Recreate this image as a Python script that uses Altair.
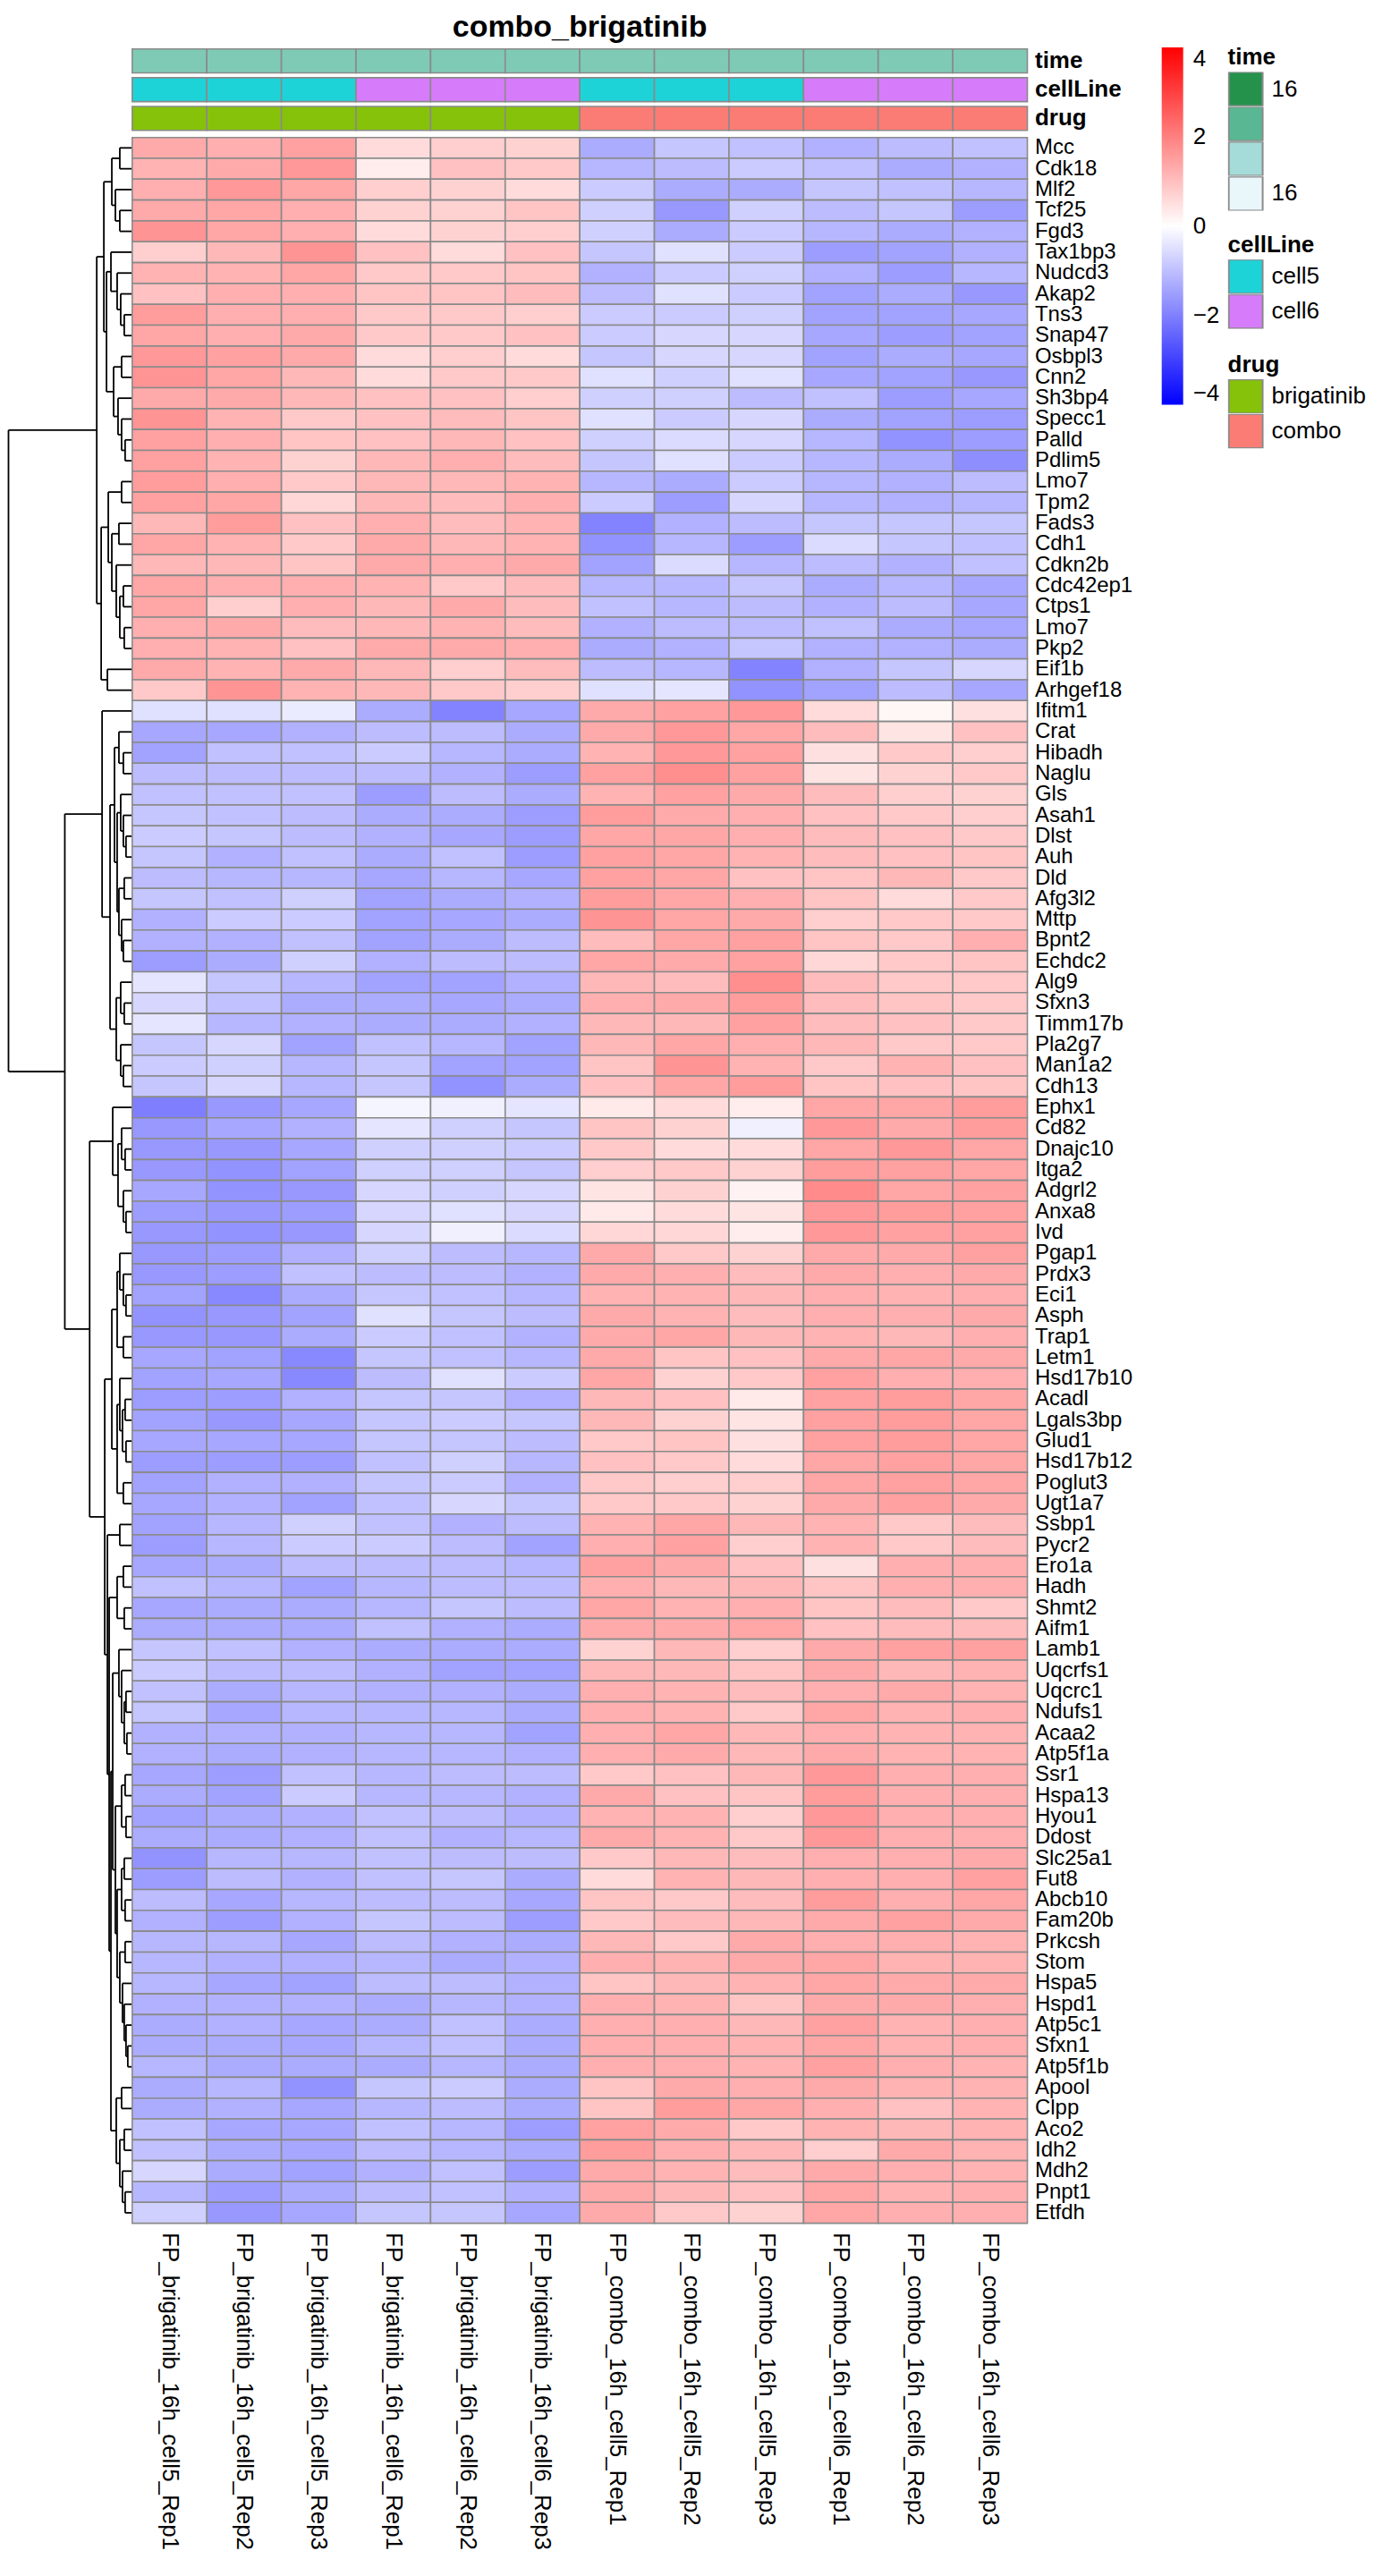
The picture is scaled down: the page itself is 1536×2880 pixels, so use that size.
import json
import altair as alt
import pandas as pd

TITLE = "combo_brigatinib"

samples = [
    "FP_brigatinib_16h_cell5_Rep1", "FP_brigatinib_16h_cell5_Rep2", "FP_brigatinib_16h_cell5_Rep3",
    "FP_brigatinib_16h_cell6_Rep1", "FP_brigatinib_16h_cell6_Rep2", "FP_brigatinib_16h_cell6_Rep3",
    "FP_combo_16h_cell5_Rep1", "FP_combo_16h_cell5_Rep2", "FP_combo_16h_cell5_Rep3",
    "FP_combo_16h_cell6_Rep1", "FP_combo_16h_cell6_Rep2", "FP_combo_16h_cell6_Rep3",
]
time_h = ["16", "16", "16", "16", "16", "16", "16", "16", "16", "16", "16", "16"]
cell_line = ["cell5", "cell5", "cell5", "cell6", "cell6", "cell6",
             "cell5", "cell5", "cell5", "cell6", "cell6", "cell6"]
drug = ["brigatinib", "brigatinib", "brigatinib", "brigatinib", "brigatinib", "brigatinib",
        "combo", "combo", "combo", "combo", "combo", "combo"]
tracks = ["time", "cellLine", "drug"]

genes = [
    "Mcc", "Cdk18", "Mlf2", "Tcf25", "Fgd3", "Tax1bp3", "Nudcd3", "Akap2", "Tns3", "Snap47",
    "Osbpl3", "Cnn2", "Sh3bp4", "Specc1", "Palld", "Pdlim5", "Lmo7", "Tpm2", "Fads3", "Cdh1",
    "Cdkn2b", "Cdc42ep1", "Ctps1", "Lmo7", "Pkp2", "Eif1b", "Arhgef18", "Ifitm1", "Crat", "Hibadh",
    "Naglu", "Gls", "Asah1", "Dlst", "Auh", "Dld", "Afg3l2", "Mttp", "Bpnt2", "Echdc2",
    "Alg9", "Sfxn3", "Timm17b", "Pla2g7", "Man1a2", "Cdh13", "Ephx1", "Cd82", "Dnajc10", "Itga2",
    "Adgrl2", "Anxa8", "Ivd", "Pgap1", "Prdx3", "Eci1", "Asph", "Trap1", "Letm1", "Hsd17b10",
    "Acadl", "Lgals3bp", "Glud1", "Hsd17b12", "Poglut3", "Ugt1a7", "Ssbp1", "Pycr2", "Ero1a", "Hadh",
    "Shmt2", "Aifm1", "Lamb1", "Uqcrfs1", "Uqcrc1", "Ndufs1", "Acaa2", "Atp5f1a", "Ssr1", "Hspa13",
    "Hyou1", "Ddost", "Slc25a1", "Fut8", "Abcb10", "Fam20b", "Prkcsh", "Stom", "Hspa5", "Hspd1",
    "Atp5c1", "Sfxn1", "Atp5f1b", "Apool", "Clpp", "Aco2", "Idh2", "Mdh2", "Pnpt1", "Etfdh",
]

# row z-scores, brigatinib samples (cell5 x3, cell6 x3)
brig_z = [
    [1.33, 1.26, 1.47, 0.56, 0.77, 0.70],      # Mcc
    [1.19, 1.33, 1.61, 0.28, 0.98, 0.84],      # Cdk18
    [1.26, 1.61, 1.40, 0.77, 0.70, 0.56],      # Mlf2
    [1.33, 1.40, 1.26, 0.70, 0.70, 0.91],      # Tcf25
    [1.68, 1.40, 1.26, 0.56, 0.70, 0.77],      # Fgd3
    [0.77, 1.12, 1.68, 0.98, 0.56, 0.98],      # Tax1bp3
    [1.19, 1.19, 1.40, 0.84, 0.84, 0.91],      # Nudcd3
    [0.98, 1.26, 1.26, 0.91, 0.91, 1.05],      # Akap2
    [1.54, 1.26, 1.26, 0.84, 0.84, 0.77],      # Tns3
    [1.40, 1.26, 1.33, 0.84, 0.84, 0.98],      # Snap47
    [1.61, 1.47, 1.33, 0.56, 0.77, 0.56],      # Osbpl3
    [1.68, 1.40, 1.12, 0.56, 0.84, 0.84],      # Cnn2
    [1.33, 1.33, 1.12, 0.98, 0.98, 0.77],      # Sh3bp4
    [1.68, 1.19, 0.84, 0.98, 1.05, 0.91],      # Specc1
    [1.47, 1.26, 0.91, 0.98, 1.12, 0.98],      # Palld
    [1.47, 1.19, 0.70, 1.12, 1.26, 1.05],      # Pdlim5
    [1.54, 1.26, 0.84, 1.12, 1.12, 1.19],      # Lmo7
    [1.47, 1.40, 0.63, 1.12, 1.05, 1.26],      # Tpm2
    [1.12, 1.54, 0.98, 1.26, 1.05, 1.19],      # Fads3
    [1.40, 1.19, 0.84, 1.33, 1.12, 1.19],      # Cdh1
    [1.12, 1.12, 0.91, 1.33, 1.26, 1.33],      # Cdkn2b
    [1.40, 1.26, 1.26, 1.19, 0.84, 1.05],      # Cdc42ep1
    [1.40, 0.77, 1.26, 1.12, 1.33, 1.05],      # Ctps1
    [1.26, 1.33, 1.05, 1.12, 1.19, 1.05],      # Lmo7
    [1.26, 1.19, 0.98, 1.33, 1.33, 1.26],      # Pkp2
    [1.33, 1.19, 1.33, 1.12, 0.77, 1.05],      # Eif1b
    [0.84, 1.68, 1.19, 1.12, 0.84, 0.77],      # Arhgef18
    [-0.49, -0.49, -0.32, -1.30, -1.94, -1.38],  # Ifitm1
    [-1.38, -1.38, -1.22, -1.05, -1.05, -1.30],  # Crat
    [-1.46, -0.97, -0.97, -0.81, -1.13, -1.30],  # Hibadh
    [-1.05, -1.05, -1.05, -1.05, -1.22, -1.54],  # Naglu
    [-0.97, -0.97, -0.97, -1.54, -1.05, -1.30],  # Gls
    [-0.89, -0.97, -1.05, -1.30, -1.30, -1.54],  # Asah1
    [-0.81, -0.89, -1.05, -1.22, -1.38, -1.54],  # Dlst
    [-0.89, -1.22, -0.97, -1.30, -0.97, -1.54],  # Auh
    [-1.05, -1.13, -1.13, -1.38, -1.13, -1.38],  # Dld
    [-0.89, -0.97, -0.73, -1.46, -1.30, -1.22],  # Afg3l2
    [-1.22, -0.81, -0.81, -1.46, -1.38, -1.30],  # Mttp
    [-1.22, -1.22, -0.97, -1.46, -1.30, -1.05],  # Bpnt2
    [-1.54, -1.30, -0.73, -1.22, -1.05, -1.05],  # Echdc2
    [-0.41, -0.89, -1.13, -1.46, -1.46, -1.22],  # Alg9
    [-0.65, -0.97, -1.30, -1.30, -1.38, -1.30],  # Sfxn3
    [-0.41, -1.13, -1.22, -1.30, -1.30, -1.22],  # Timm17b
    [-0.89, -0.65, -1.46, -0.97, -1.13, -1.46],  # Pla2g7
    [-0.81, -0.73, -1.13, -0.89, -1.46, -1.46],  # Man1a2
    [-0.89, -0.65, -1.13, -0.89, -1.70, -1.30],  # Cdh13
    [-2.03, -1.62, -1.38, -0.16, -0.24, -0.41],  # Ephx1
    [-1.62, -1.38, -1.22, -0.41, -0.73, -0.89],  # Cd82
    [-1.62, -1.62, -1.38, -0.73, -0.73, -0.81],  # Dnajc10
    [-1.62, -1.70, -1.46, -0.73, -0.73, -0.89],  # Itga2
    [-1.38, -1.70, -1.62, -0.65, -0.73, -0.65],  # Adgrl2
    [-1.54, -1.62, -1.54, -0.65, -0.49, -0.65],  # Anxa8
    [-1.62, -1.70, -1.62, -0.65, -0.24, -0.57],  # Ivd
    [-1.62, -1.54, -1.22, -0.73, -1.05, -1.13],  # Pgap1
    [-1.62, -1.54, -0.97, -1.05, -1.05, -1.22],  # Prdx3
    [-1.46, -1.86, -1.30, -0.89, -0.97, -1.13],  # Eci1
    [-1.70, -1.62, -1.46, -0.49, -0.89, -1.05],  # Asph
    [-1.62, -1.62, -1.30, -0.81, -0.97, -1.22],  # Trap1
    [-1.38, -1.46, -1.86, -0.89, -0.97, -1.13],  # Letm1
    [-1.46, -1.38, -1.86, -1.05, -0.49, -0.81],  # Hsd17b10
    [-1.54, -1.54, -1.22, -0.89, -0.89, -1.22],  # Acadl
    [-1.46, -1.62, -1.38, -0.89, -0.81, -0.89],  # Lgals3bp
    [-1.38, -1.38, -1.38, -0.89, -0.89, -1.05],  # Glud1
    [-1.54, -1.54, -1.54, -0.97, -0.73, -1.13],  # Hsd17b12
    [-1.46, -1.22, -1.22, -0.89, -0.81, -1.22],  # Poglut3
    [-1.38, -1.22, -1.46, -0.97, -0.65, -0.89],  # Ugt1a7
    [-1.46, -1.13, -0.73, -0.97, -1.22, -1.05],  # Ssbp1
    [-1.54, -1.13, -0.81, -0.81, -1.05, -1.46],  # Pycr2
    [-1.38, -1.30, -1.05, -1.05, -1.05, -1.13],  # Ero1a
    [-0.97, -1.13, -1.46, -1.13, -1.05, -1.05],  # Hadh
    [-1.38, -1.30, -1.30, -1.13, -0.89, -1.05],  # Shmt2
    [-1.30, -1.30, -1.30, -0.97, -1.22, -1.30],  # Aifm1
    [-0.89, -0.97, -1.22, -1.30, -1.30, -1.30],  # Lamb1
    [-0.81, -1.05, -1.05, -1.22, -1.46, -1.46],  # Uqcrfs1
    [-0.97, -1.30, -1.13, -1.22, -1.22, -1.30],  # Uqcrc1
    [-0.89, -1.38, -1.13, -1.13, -1.13, -1.30],  # Ndufs1
    [-1.22, -1.22, -1.22, -1.13, -1.13, -1.46],  # Acaa2
    [-1.22, -1.30, -1.22, -1.13, -1.13, -1.22],  # Atp5f1a
    [-1.38, -1.54, -0.97, -1.13, -1.05, -1.05],  # Ssr1
    [-1.30, -1.46, -0.81, -1.13, -1.13, -1.22],  # Hspa13
    [-1.46, -1.30, -1.22, -0.97, -1.05, -1.22],  # Hyou1
    [-1.30, -1.30, -1.22, -0.97, -1.22, -1.13],  # Ddost
    [-1.70, -1.13, -1.13, -0.97, -1.05, -1.05],  # Slc25a1
    [-1.54, -1.05, -1.22, -0.97, -0.89, -1.30],  # Fut8
    [-1.05, -1.38, -1.13, -1.05, -1.05, -1.38],  # Abcb10
    [-1.22, -1.54, -1.22, -0.89, -1.05, -1.54],  # Fam20b
    [-1.13, -1.13, -1.38, -1.05, -1.22, -1.30],  # Prkcsh
    [-1.13, -1.22, -1.22, -1.13, -1.30, -1.22],  # Stom
    [-1.13, -1.38, -1.46, -1.05, -1.05, -1.22],  # Hspa5
    [-1.22, -1.22, -1.22, -1.30, -1.13, -1.22],  # Hspd1
    [-1.30, -1.22, -1.38, -1.30, -0.97, -1.30],  # Atp5c1
    [-1.30, -1.30, -1.38, -1.13, -0.97, -1.30],  # Sfxn1
    [-1.13, -1.30, -1.30, -1.30, -1.13, -1.30],  # Atp5f1b
    [-1.30, -1.13, -1.70, -0.89, -0.81, -1.30],  # Apool
    [-1.30, -1.22, -1.38, -1.13, -1.05, -1.30],  # Clpp
    [-0.97, -1.38, -1.38, -0.97, -1.13, -1.54],  # Aco2
    [-0.97, -1.30, -1.38, -1.05, -1.13, -1.30],  # Idh2
    [-0.65, -1.30, -1.46, -1.22, -0.97, -1.54],  # Mdh2
    [-1.13, -1.54, -1.30, -1.05, -0.97, -1.22],  # Pnpt1
    [-0.73, -1.62, -1.38, -0.89, -0.89, -1.38],  # Etfdh
]

# row z-scores, combo samples (cell5 x3, cell6 x3)
combo_z = [
    [-1.30, -0.89, -0.97, -1.22, -1.05, -0.97],  # Mcc
    [-1.13, -1.05, -0.81, -0.97, -1.30, -1.22],  # Cdk18
    [-0.81, -1.30, -1.30, -0.89, -0.97, -1.13],  # Mlf2
    [-0.73, -1.62, -0.73, -1.05, -0.89, -1.54],  # Tcf25
    [-0.73, -1.30, -0.81, -1.13, -1.30, -1.22],  # Fgd3
    [-0.89, -0.49, -0.81, -1.54, -1.46, -1.22],  # Tax1bp3
    [-1.22, -0.81, -0.73, -1.22, -1.54, -1.13],  # Nudcd3
    [-1.05, -0.49, -0.81, -1.46, -1.30, -1.62],  # Akap2
    [-0.81, -0.81, -0.73, -1.46, -1.46, -1.38],  # Tns3
    [-0.81, -0.65, -0.65, -1.38, -1.54, -1.46],  # Snap47
    [-0.89, -0.65, -0.65, -1.46, -1.30, -1.38],  # Osbpl3
    [-0.49, -0.73, -0.49, -1.38, -1.46, -1.62],  # Cnn2
    [-0.73, -0.73, -1.05, -0.97, -1.54, -1.38],  # Sh3bp4
    [-0.49, -0.81, -0.65, -1.30, -1.46, -1.54],  # Specc1
    [-0.73, -0.57, -0.65, -1.13, -1.70, -1.54],  # Palld
    [-0.89, -0.49, -0.81, -1.13, -1.30, -1.78],  # Pdlim5
    [-1.13, -1.30, -0.81, -1.13, -1.22, -1.05],  # Lmo7
    [-0.81, -1.54, -0.65, -1.13, -1.22, -1.13],  # Tpm2
    [-1.94, -1.22, -1.05, -0.89, -0.89, -0.89],  # Fads3
    [-1.70, -1.13, -1.54, -0.57, -0.89, -0.97],  # Cdh1
    [-1.46, -0.57, -1.13, -1.05, -1.22, -0.97],  # Cdkn2b
    [-1.13, -1.13, -0.89, -1.30, -1.13, -1.38],  # Cdc42ep1
    [-0.97, -1.13, -1.05, -1.22, -1.05, -1.38],  # Ctps1
    [-1.22, -1.05, -1.05, -0.97, -1.30, -1.38],  # Lmo7
    [-1.30, -1.22, -0.89, -1.22, -1.22, -1.30],  # Pkp2
    [-1.05, -1.13, -1.94, -1.22, -0.89, -0.65],  # Eif1b
    [-0.49, -0.41, -1.70, -1.46, -1.05, -1.38],  # Arhgef18
    [1.33, 1.47, 1.61, 0.56, 0.14, 0.49],      # Ifitm1
    [1.33, 1.61, 1.40, 1.05, 0.42, 0.98],      # Crat
    [1.19, 1.61, 1.47, 0.49, 0.84, 0.77],      # Hibadh
    [1.47, 1.75, 1.47, 0.42, 0.70, 0.84],      # Naglu
    [1.19, 1.47, 1.33, 1.05, 0.77, 0.70],      # Gls
    [1.54, 1.33, 1.26, 0.98, 0.84, 0.77],      # Asah1
    [1.40, 1.40, 1.26, 1.05, 0.98, 0.84],      # Dlst
    [1.47, 1.40, 1.19, 1.05, 0.98, 0.91],      # Auh
    [1.47, 1.40, 0.98, 0.91, 1.12, 0.84],      # Dld
    [1.54, 1.40, 1.26, 0.91, 0.56, 0.84],      # Afg3l2
    [1.68, 1.40, 1.33, 0.77, 0.84, 0.84],      # Mttp
    [1.05, 1.40, 1.47, 0.91, 0.84, 1.26],      # Bpnt2
    [1.40, 1.33, 1.47, 0.63, 0.84, 0.91],      # Echdc2
    [1.12, 1.05, 1.75, 1.05, 0.84, 0.84],      # Alg9
    [1.26, 1.33, 1.54, 1.05, 0.91, 0.84],      # Sfxn3
    [1.12, 1.12, 1.47, 1.05, 0.98, 0.84],      # Timm17b
    [1.12, 1.40, 1.26, 1.12, 0.84, 0.84],      # Pla2g7
    [0.91, 1.68, 1.19, 0.84, 1.19, 0.98],      # Man1a2
    [0.98, 1.40, 1.54, 0.91, 0.98, 0.91],      # Cdh13
    [0.35, 0.56, 0.28, 1.40, 1.40, 1.54],      # Ephx1
    [0.91, 0.70, -0.24, 1.61, 1.33, 1.54],     # Cd82
    [0.84, 0.56, 0.56, 1.40, 1.61, 1.40],      # Dnajc10
    [0.77, 0.84, 0.70, 1.54, 1.47, 1.40],      # Itga2
    [0.42, 0.70, 0.21, 1.82, 1.40, 1.47],      # Adgrl2
    [0.35, 0.56, 0.42, 1.61, 1.54, 1.47],      # Anxa8
    [0.63, 0.63, 0.28, 1.61, 1.47, 1.47],      # Ivd
    [1.33, 0.84, 0.70, 1.33, 1.33, 1.47],      # Pgap1
    [1.33, 1.26, 1.05, 1.33, 1.26, 1.33],      # Prdx3
    [1.19, 1.19, 1.12, 1.26, 1.19, 1.26],      # Eci1
    [1.33, 1.19, 1.05, 1.26, 1.26, 1.33],      # Asph
    [1.33, 1.40, 1.12, 1.19, 1.12, 1.26],      # Trap1
    [1.33, 0.91, 0.98, 1.33, 1.40, 1.33],      # Letm1
    [1.40, 0.70, 0.84, 1.47, 1.26, 1.26],      # Hsd17b10
    [1.12, 0.98, 0.35, 1.47, 1.54, 1.40],      # Acadl
    [1.12, 0.70, 0.42, 1.47, 1.54, 1.40],      # Lgals3bp
    [0.84, 0.91, 0.49, 1.47, 1.54, 1.40],      # Glud1
    [0.98, 0.84, 0.56, 1.40, 1.47, 1.40],      # Hsd17b12
    [0.84, 0.77, 0.77, 1.40, 1.47, 1.40],      # Poglut3
    [0.84, 0.84, 0.70, 1.33, 1.47, 1.33],      # Ugt1a7
    [1.19, 1.40, 1.12, 1.19, 0.84, 1.05],      # Ssbp1
    [1.26, 1.47, 0.77, 1.19, 0.84, 1.05],      # Pycr2
    [1.47, 1.33, 0.98, 0.49, 1.26, 1.26],      # Ero1a
    [1.26, 1.12, 1.12, 0.91, 1.26, 1.26],      # Hadh
    [1.40, 1.19, 1.26, 0.91, 1.05, 0.84],      # Shmt2
    [1.33, 1.33, 1.40, 0.98, 1.05, 1.05],      # Aifm1
    [0.70, 1.12, 0.77, 1.33, 1.47, 1.47],      # Lamb1
    [1.12, 1.12, 0.91, 1.33, 1.12, 1.19],      # Uqcrfs1
    [1.26, 1.19, 1.05, 1.26, 1.33, 1.19],      # Uqcrc1
    [1.26, 1.19, 0.84, 1.40, 1.19, 1.26],      # Ndufs1
    [1.26, 1.40, 1.12, 1.26, 1.19, 1.19],      # Acaa2
    [1.26, 1.33, 1.12, 1.33, 1.19, 1.19],      # Atp5f1a
    [0.84, 0.98, 1.12, 1.61, 1.26, 1.26],      # Ssr1
    [1.33, 0.98, 0.91, 1.54, 1.26, 1.26],      # Hspa13
    [1.19, 1.19, 0.77, 1.61, 1.26, 1.26],      # Hyou1
    [1.33, 1.19, 0.84, 1.61, 1.26, 1.26],      # Ddost
    [0.84, 1.12, 1.05, 1.26, 1.26, 1.33],      # Slc25a1
    [0.56, 1.19, 1.12, 1.26, 1.26, 1.47],      # Fut8
    [0.91, 0.84, 1.05, 1.54, 1.26, 1.40],      # Abcb10
    [0.84, 1.05, 1.12, 1.33, 1.47, 1.33],      # Fam20b
    [1.12, 0.84, 1.33, 1.26, 1.26, 1.19],      # Prkcsh
    [1.26, 1.19, 1.33, 1.40, 1.19, 1.19],      # Stom
    [0.91, 1.12, 1.19, 1.40, 1.33, 1.33],      # Hspa5
    [1.26, 1.19, 0.91, 1.33, 1.33, 1.26],      # Hspd1
    [1.26, 1.26, 1.12, 1.47, 1.19, 1.26],      # Atp5c1
    [1.26, 1.26, 1.19, 1.40, 1.19, 1.26],      # Sfxn1
    [1.26, 1.26, 1.19, 1.47, 1.26, 1.19],      # Atp5f1b
    [0.91, 1.33, 1.26, 1.33, 1.19, 1.19],      # Apool
    [0.91, 1.54, 1.40, 1.26, 0.98, 1.19],      # Clpp
    [1.47, 1.33, 0.84, 1.19, 1.12, 1.19],      # Aco2
    [1.54, 1.26, 1.12, 0.77, 1.33, 1.19],      # Idh2
    [1.33, 1.19, 1.05, 1.33, 1.26, 1.19],      # Mdh2
    [1.33, 1.12, 0.98, 1.40, 1.19, 1.26],      # Pnpt1
    [1.33, 0.84, 0.70, 1.40, 1.26, 1.26],      # Etfdh
]

# row dendrogram: (merge height, left, right); leaves are 1-based row numbers
T1a = (23, (14, 1, 2), (19, 3, (14, 4, 5)))
T1b = (29,
       (24, 6, (17, 7, (13, 8, (9, 9, 10)))),
       (21, (12, 11, 12), (16, 13, (12, 14, (8, 15, 16)))))
T2 = (35,
      (27, (12, 17, 18), (23, (15, 19, 20), (18, 21, (14, (10, 22, 23), (9, 24, 25))))),
      (28, 26, 27))
TOP = (40, (32, T1a, T1b), T2)
A1 = (20, (15, 29, (10, 30, 31)),
      (17, (13, 32, (10, 33, (7, 34, 35))), (15, (9, 36, 37), (12, 38, (10, 39, 40)))))
A2 = (18, (13, 41, (9, 42, 43)), (13, 44, (10, 45, 46)))
A = (34, 28, (25, A1, A2))
B1 = (22, 47, (16, (12, 48, (8, 49, 50)), (10, 51, (7, 52, 53))))
B2a = (23, (17, (14, 54, (10, 55, (7, 56, 57))), (10, 58, 59)),
       (17, (14, 60, (11, (8, 61, 62), (7, 63, 64))), (10, 65, 66)))
G2a = (17, (10, 69, 70), (9, 71, 72))
M1 = (15, 73, (12, 74, (9, (7, 75, 76), (6, 77, 78))))
M2 = (19, (12, (8, 79, 80), (7, 81, 82)),
      (17, (12, (9, 83, 84), (8, 85, 86)),
       (14, (8, 87, 88), (11, 89, (9, 90, (7, 91, (5, 92, 93)))))))
G2b = (24, (22, M1, M2), (18, (12, 94, 95), (14, (9, 96, 97), (11, 98, (8, 99, 100)))))
B2 = (31, B2a, (28, (14, 67, 68), (26, G2a, G2b)))
tree = (139.5, TOP, (76, A, (48, B1, B2)))

GRID = "#8a8a8a"
FONT = "Liberation Sans"

# ---------- data tables ----------
heat_rows = []
for r, g in enumerate(genes):
    vals = brig_z[r] + combo_z[r]
    for c, s in enumerate(samples):
        heat_rows.append({"row": r, "gene": g, "sample": s, "value": vals[c]})
heat_df = pd.DataFrame(heat_rows)

segs = []


def walk(node):
    if isinstance(node, int):
        return 0.0, node - 0.5
    h, left, right = node
    hl, yl = walk(left)
    hr, yr = walk(right)
    segs.append({"x": h, "x2": h, "y": yl, "y2": yr})
    segs.append({"x": hl, "x2": h, "y": yl, "y2": yl})
    segs.append({"x": hr, "x2": h, "y": yr, "y2": yr})
    return h, (yl + yr) / 2


walk(tree)
seg_df = pd.DataFrame(segs)

ann_rows = []
for s, t, c, d in zip(samples, time_h, cell_line, drug):
    ann_rows.append({"sample": s, "track": "time", "value": t})
    ann_rows.append({"sample": s, "track": "cellLine", "value": c})
    ann_rows.append({"sample": s, "track": "drug", "value": d})
ann_df = pd.DataFrame(ann_rows)

# ---------- heatmap ----------
gene_js = json.dumps(genes)
heat = alt.Chart(heat_df).mark_rect(stroke=GRID, strokeWidth=1.6).encode(
    x=alt.X("sample:N", scale=alt.Scale(domain=samples, paddingInner=0, paddingOuter=0),
            axis=alt.Axis(orient="bottom", title=None, labelAngle=90, labelFontSize=26,
                          labelPadding=10, ticks=False, domain=False, labelColor="black",
                          labelLimit=600, labelAlign="left", labelBaseline="middle")),
    y=alt.Y("row:O", scale=alt.Scale(domain=list(range(len(genes))), paddingInner=0, paddingOuter=0),
            axis=alt.Axis(orient="right", title=None, ticks=False, domain=False,
                          labelFontSize=24, labelPadding=8, labelColor="black",
                          labelOverlap=False, labelLimit=400,
                          labelExpr=gene_js + "[datum.value]")),
    color=alt.Color("value:Q",
                    scale=alt.Scale(domain=[-4, 0, 4], range=["#0000FF", "#FFFFFF", "#FF0000"],
                                    interpolate="rgb"),
                    legend=alt.Legend(orient="none", legendX=1152.4, legendY=-100.7,
                                      direction="vertical", gradientLength=400,
                                      gradientThickness=24, title=None,
                                      values=[-4, -2, 0, 2, 4], labelFontSize=26,
                                      labelOffset=11, gradientStrokeWidth=0,
                                      labelOverlap=False, labelBaseline="middle",
                                      labelColor="black", padding=0)),
).properties(width=1002, height=2335)

# ---------- dendrogram ----------
dendro = alt.Chart(seg_df).mark_rule(color="black", strokeWidth=1.8).encode(
    x=alt.X("x:Q", scale=alt.Scale(domain=[140, 0], nice=False, zero=False), axis=None),
    x2="x2:Q",
    y=alt.Y("y:Q", scale=alt.Scale(domain=[0, 100], reverse=True, nice=False, zero=False), axis=None),
    y2="y2:Q",
).properties(width=139, height=2335)

# ---------- column annotations ----------
ax = alt.X("sample:N", scale=alt.Scale(domain=samples, paddingInner=0, paddingOuter=0), axis=None)
ay = alt.Y("track:N", scale=alt.Scale(domain=tracks, paddingInner=0.17, paddingOuter=0),
           axis=alt.Axis(orient="right", title=None, ticks=False, domain=False,
                         labelFontSize=26, labelFontWeight="bold", labelPadding=8,
                         labelColor="black"))

leg_common = dict(orient="none", legendX=1226.4, symbolType="square", symbolSize=1444,
                  symbolStrokeColor=GRID, symbolStrokeWidth=2, clipHeight=38.3,
                  rowPadding=0, labelFontSize=26, labelOffset=9, titleFontSize=26,
                  titleFontWeight="bold", titlePadding=3.5, labelColor="black",
                  titleColor="black", padding=0, symbolOpacity=1)

time_levels = ["h1", "h2", "h3", "h4", "16"]
time_colors = ["#25924C", "#59B793", "#A5DBD8", "#E9F6FA", "#7FCAB5"]
cell_levels = ["cell5", "cell6"]
cell_colors = ["#1DD3D8", "#D67CFB"]
drug_levels = ["brigatinib", "combo"]
drug_colors = ["#86C20A", "#FB7C74"]


def ann_layer(track, levels, colors, legend):
    return alt.Chart(ann_df).transform_filter(alt.datum.track == track).mark_rect(
        stroke=GRID, strokeWidth=1.6).encode(
        x=ax, y=ay,
        color=alt.Color("value:N", scale=alt.Scale(domain=levels, range=colors), legend=legend))


time_layer = ann_layer("time", time_levels, time_colors,
                       alt.Legend(title="time", legendY=-3.8, values=["h1", "h2", "h3", "h4"],
                                  labelExpr="datum.value == 'h1' || datum.value == 'h4' ? '16' : ''",
                                  **leg_common))
cell_layer = ann_layer("cellLine", cell_levels, cell_colors,
                       alt.Legend(title="cellLine", legendY=206.2, **leg_common))
drug_layer = ann_layer("drug", drug_levels, drug_colors,
                       alt.Legend(title="drug", legendY=340.2, **leg_common))

annot = alt.layer(time_layer, cell_layer, drug_layer).resolve_scale(color="independent").properties(
    width=1002, height=91,
    title=alt.Title(TITLE, fontSize=34, fontWeight="bold", anchor="middle", frame="group",
                    offset=3, color="black", font=FONT))

spacer = alt.Chart(pd.DataFrame({"v": [0]})).mark_point(opacity=0).encode(
    x=alt.X("v:Q", axis=None), y=alt.Y("v:Q", axis=None)).properties(width=139, height=91)

chart = alt.concat(spacer, annot, dendro, heat, columns=2, bounds="flush",
                   spacing={"row": 8, "column": 0}).resolve_scale(
    x="independent", y="independent", color="independent").properties(
    padding={"top": 4, "left": 0, "right": 0, "bottom": 0}
).configure(font=FONT).configure_view(strokeWidth=0).configure_axis(
    labelFont=FONT).configure_legend(labelFont=FONT, titleFont=FONT)

chart.save("out.html", embed_options={"renderer": "svg", "actions": False})
